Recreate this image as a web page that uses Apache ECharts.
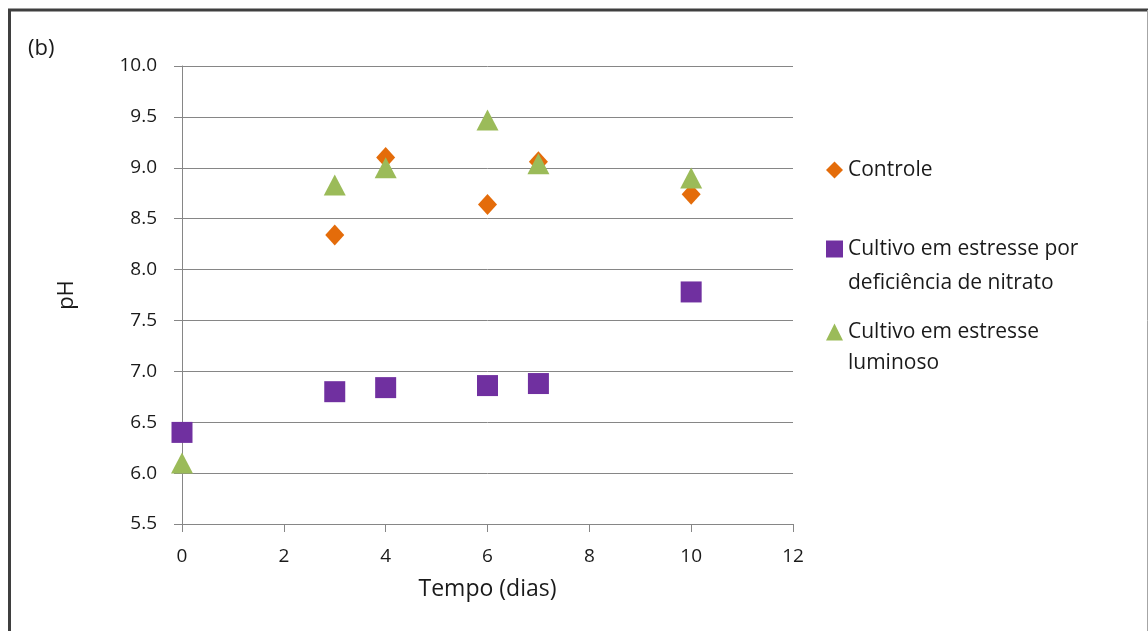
<!DOCTYPE html>
<html>
<head>
<meta charset="utf-8">
<script src="https://cdn.jsdelivr.net/npm/echarts@6/dist/echarts.min.js"></script>
<style>
  html, body { margin: 0; padding: 0; background: #ffffff; }
  #chart { width: 1148px; height: 631px; }
</style>
</head>
<body>
<div id="chart"></div>
<script>
// pH over time (days) for three culture conditions
const dias = [0, 3, 4, 6, 7, 10];
const controle = [null, 8.34, 9.10, 8.64, 9.06, 8.74];
const nitrato = [6.40, 6.80, 6.84, 6.86, 6.88, 7.78];
const luminoso = [6.10, 8.83, 9.00, 9.47, 9.04, 8.90];

const yTicks = { min: 5.5, max: 10.0, interval: 0.5 };
const xTicks = { min: 0, max: 12, interval: 2 };

const seriesNames = [
  'Controle',
  'Cultivo em estresse por deficiência de nitrato',
  'Cultivo em estresse luminoso'
];
const legendLines = [
  ['Controle'],
  ['Cultivo em estresse por', 'deficiência de nitrato'],
  ['Cultivo em estresse', 'luminoso']
];

const FONT = 'Open Sans';
const TEXT = '#1a1a1a';
const GRID = '#868686';
const colors = ['#E46C0A', '#7030A0', '#9BBB59'];

function pairs(ys) {
  const out = [];
  dias.forEach((d, i) => { if (ys[i] != null) out.push([d, ys[i]]); });
  return out;
}

const legendTops = [159, 238, 321];
const legendIcons = ['diamond', 'rect', 'triangle'];

const chart = echarts.init(document.getElementById('chart'), null, { renderer: 'canvas' });

chart.setOption({
  animation: false,
  backgroundColor: '#ffffff',
  textStyle: { fontFamily: FONT },
  grid: { left: 182, right: 355, top: 66, bottom: 107, containLabel: false },
  xAxis: {
    type: 'value',
    min: xTicks.min, max: xTicks.max, interval: xTicks.interval,
    name: 'Tempo (dias)',
    nameLocation: 'middle',
    nameGap: 54,
    nameTextStyle: { fontFamily: FONT, fontSize: 23, color: TEXT },
    axisLine: { lineStyle: { color: GRID, width: 1 } },
    axisTick: { show: true, inside: false, length: 8, lineStyle: { color: GRID } },
    axisLabel: { fontFamily: FONT, fontSize: 19, color: TEXT, margin: 23 },
    splitLine: { show: false }
  },
  yAxis: {
    type: 'value',
    min: yTicks.min, max: yTicks.max, interval: yTicks.interval,
    name: 'pH',
    nameLocation: 'middle',
    nameRotate: 90,
    nameGap: 104,
    nameTextStyle: { fontFamily: FONT, fontSize: 22, color: TEXT },
    axisLine: { show: true, lineStyle: { color: GRID, width: 1 } },
    axisTick: { show: true, inside: false, length: 8, lineStyle: { color: GRID } },
    axisLabel: {
      fontFamily: FONT, fontSize: 19, color: TEXT, margin: 25,
      formatter: v => v.toFixed(1)
    },
    splitLine: { show: true, lineStyle: { color: GRID, width: 1 } }
  },
  legend: legendLines.map((lines, i) => ({
    data: [{ name: seriesNames[i], icon: legendIcons[i] }],
    left: 826,
    top: legendTops[i],
    padding: 0,
    itemWidth: 17,
    itemHeight: 17,
    itemGap: 0,
    selectedMode: false,
    formatter: () => lines[0],
    textStyle: { fontFamily: FONT, fontSize: 21, color: TEXT, lineHeight: 22 }
  })),
  graphic: [
    // chart frame
    { type: 'line', shape: { x1: 8, y1: 10, x2: 1148, y2: 10 }, style: { stroke: '#3f3f3f', lineWidth: 3 }, silent: true },
    { type: 'line', shape: { x1: 9.5, y1: 9, x2: 9.5, y2: 631 }, style: { stroke: '#3f3f3f', lineWidth: 3 }, silent: true },
    { type: 'line', shape: { x1: 1147.5, y1: 10, x2: 1147.5, y2: 631 }, style: { stroke: '#a6a6a6', lineWidth: 1 }, silent: true },
    // panel tag
    { type: 'text', left: 28, top: 38, style: { text: '(b)', fontFamily: FONT, fontSize: 22, fill: TEXT } },
    // continuation lines of the two-line legend entries
    { type: 'text', left: 848, top: 273, style: { text: legendLines[1][1], fontFamily: FONT, fontSize: 21, fill: TEXT } },
    { type: 'text', left: 848, top: 353, style: { text: legendLines[2][1], fontFamily: FONT, fontSize: 21, fill: TEXT } }
  ],
  series: [
    {
      name: seriesNames[0], type: 'scatter', data: pairs(controle),
      symbol: 'diamond', symbolSize: [19, 21], z: 2,
      itemStyle: { color: colors[0], opacity: 1 }
    },
    {
      name: seriesNames[1], type: 'scatter', data: pairs(nitrato),
      symbol: 'rect', symbolSize: [21, 21], z: 3,
      itemStyle: { color: colors[1], opacity: 1 }
    },
    {
      name: seriesNames[2], type: 'scatter', data: pairs(luminoso),
      symbol: 'triangle', symbolSize: [22, 21], z: 4,
      itemStyle: { color: colors[2], opacity: 1 }
    }
  ]
});
</script>
</body>
</html>
